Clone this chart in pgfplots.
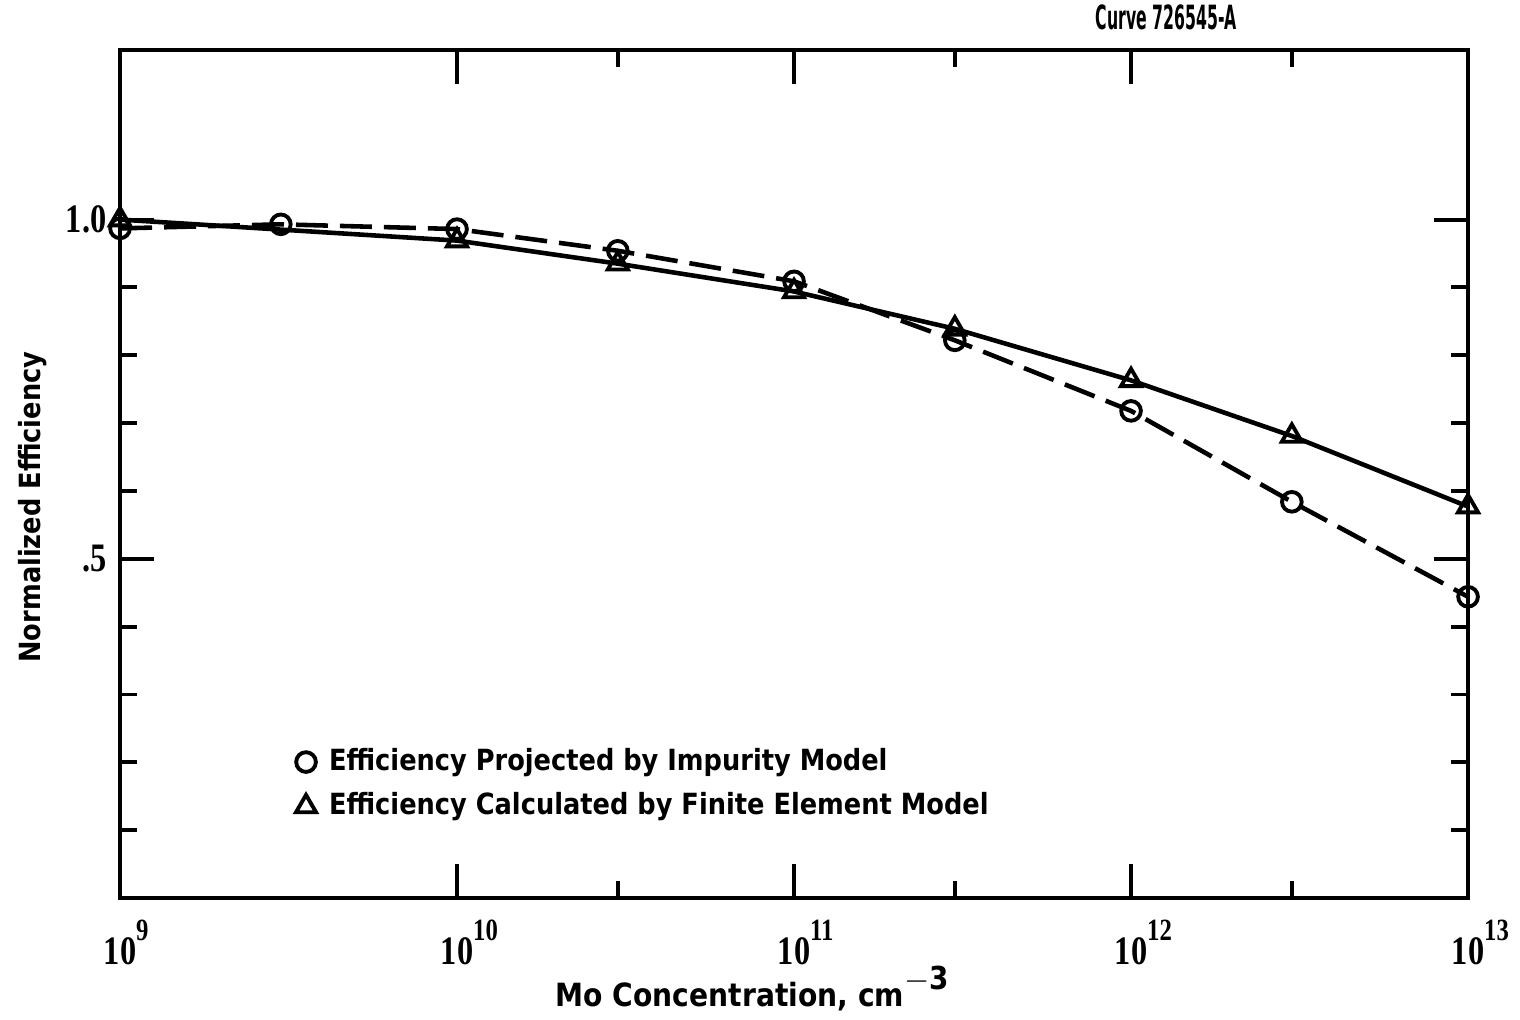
\documentclass[border=0pt]{standalone}
\usepackage{graphicx}
\usepackage{pgfplots}
\pgfplotsset{compat=1.18}
\usepackage{fontspec}
\setmainfont{DejaVu Sans}
\newfontfamily\labfont{DejaVu Sans}[FakeStretch=0.88]
\newfontfamily\tickfont{Liberation Serif}[FakeStretch=0.8]
\newcommand{\tp}[1]{\tickfont\bfseries\fontsize{11.5}{11.5}\selectfont 10\rlap{\raisebox{2.4mm}{\fontsize{8.8}{8.8}\selectfont #1}}}
\newcommand{\ytl}[1]{\tickfont\bfseries\fontsize{11.5}{11.5}\selectfont #1}
\begin{document}
\begin{tikzpicture}
\begin{axis}[
  at={(0,0)}, anchor=south west,
  scale only axis, width=134.8mm, height=84.8mm,
  xmode=log, xmin=1e9, xmax=1e13, ymin=0, ymax=1.25,
  xtick={1e9,1e10,1e11,1e12,1e13},
  xticklabels={\tp{9},\tp{10},\tp{11},\tp{12},\tp{13}},
  minor xtick={3e10,3e11,3e12},
  ytick={0.5,1.0},
  yticklabels={\ytl{.5},\ytl{1.0}},
  minor ytick={0.1,0.2,0.3,0.4,0.6,0.7,0.8,0.9},
  xtick pos=both, ytick pos=both,
  tick align=inside,
  major tick length=3.4mm, minor tick length=1.7mm,
  tick style={black, line width=1.1pt},
  axis line style={line width=1.2pt},
  xticklabel style={anchor=base, yshift=-6.7mm},
  yticklabel style={anchor=east, inner sep=0pt, xshift=-1.3mm},
  xlabel={Mo Concentration, cm\raisebox{1.0ex}{\fontsize{9}{9}\selectfont $\mathbf{-}$3}},
  ylabel={Normalized Efficiency},
  xlabel style={at={(axis description cs:0.469,0)}, anchor=base, yshift=-10.9mm,
    font=\labfont\bfseries\fontsize{9.1}{10}\selectfont},
  ylabel style={at={(axis description cs:0,0.461)}, anchor=base, yshift=8mm,
    font=\labfont\bfseries\fontsize{8.3}{10}\selectfont},
  clip=false,
  legend style={draw=none, fill=none, at={(rel axis cs:0.13,0.182)}, anchor=north west,
    font=\labfont\bfseries\fontsize{8.3}{9.5}\selectfont, row sep=0.9mm, column sep=0.9mm,
    inner sep=0pt, nodes={inner sep=0.4mm}},
  legend cell align=left,
  legend image code/.code={\draw[#1, solid, only marks] plot coordinates {(0.05cm,0cm)};},
]
\addplot[black, line width=1.3pt, dash pattern=on 3.2mm off 1.2mm,
  mark=o, mark size=2.8pt, mark options={solid, fill=white, line width=1.1pt}]
  coordinates {(1e9,0.987) (3e9,0.993) (1e10,0.986) (3e10,0.954) (1e11,0.909)
               (3e11,0.822) (1e12,0.718) (3e12,0.584) (1e13,0.444)};
\addlegendentry{Efficiency Projected by Impurity Model}
\addplot[black, line width=1.3pt,
  mark=triangle, mark size=3.3pt, mark options={solid, fill=white, line width=1.1pt}]
  coordinates {(1e9,1.0) (1e10,0.969) (3e10,0.935) (1e11,0.894) (3e11,0.839)
               (1e12,0.763) (3e12,0.681) (1e13,0.577)};
\addlegendentry{Efficiency Calculated by Finite Element Model}
\node[anchor=base east, inner sep=0pt, font=\bfseries\fontsize{9.5}{10}\selectfont, yshift=2.0mm]
  at (rel axis cs:0.829,1) {\scalebox{0.47}[1]{Curve 726545-A}};
\end{axis}
\pgfresetboundingbox
\useasboundingbox (-12mm,-12.2mm) rectangle (140mm,89.8mm);
\end{tikzpicture}
\end{document}
